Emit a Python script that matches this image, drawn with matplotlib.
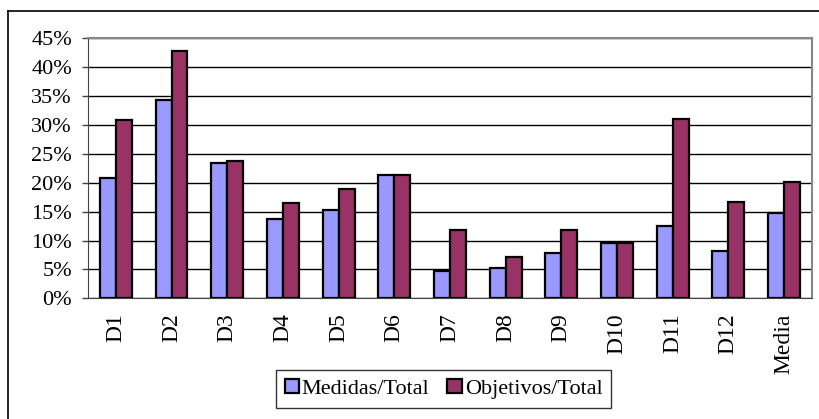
import matplotlib
matplotlib.use("Agg")
import matplotlib.pyplot as plt
import numpy as np
from matplotlib.lines import Line2D
from matplotlib.ticker import FuncFormatter

# data (percent)
categories = ["D1", "D2", "D3", "D4", "D5", "D6", "D7", "D8", "D9",
              "D10", "D11", "D12", "Media"]
medidas = [20.9, 34.4, 23.5, 13.8, 15.2, 21.4, 4.8, 5.2, 7.9, 9.5, 12.6, 8.2, 14.8]
objetivos = [30.9, 42.8, 23.7, 16.5, 19.0, 21.4, 11.8, 7.1, 11.8, 9.5, 31.0, 16.6, 20.2]
yticks = np.arange(0, 46, 5)

plt.rcParams["font.family"] = ["Liberation Serif", "DejaVu Serif"]

fig = plt.figure(figsize=(8.2, 4.19), dpi=100)
ax = fig.add_axes([0.1073, 0.288, 0.8827, 0.6206])

x = np.arange(len(categories))
w = 0.287
ax.bar(x - w / 2, medidas, w, color="#9999FF", edgecolor="black", lw=1.6,
       label="Medidas/Total", zorder=3)
ax.bar(x + w / 2, objetivos, w, color="#993366", edgecolor="black", lw=1.6,
       label="Objetivos/Total", zorder=3)

ax.set_xlim(-0.5, len(categories) - 0.5)
ax.set_ylim(0, 45)
ax.set_yticks(yticks)
ax.yaxis.set_major_formatter(FuncFormatter(lambda v, p: f"{v:.0f}%"))
ax.set_xticks(x)
ax.set_xticklabels(categories, rotation=90, va="top", ha="center")
ax.tick_params(axis="y", labelsize=16, length=4.5, width=1, pad=7, color="#444444")
ax.tick_params(axis="x", labelsize=17, length=0, pad=11)

ax.grid(axis="y", color="black", lw=1, zorder=0)
for s in ["top", "right"]:
    ax.spines[s].set_color("#888888")
    ax.spines[s].set_linewidth(1.5)
ax.spines["left"].set_color("#444444")
ax.spines["bottom"].set_color("#444444")

ax.legend(loc="center", bbox_to_anchor=(443.5 / 820, 1 - 389 / 419),
          bbox_transform=fig.transFigure, ncol=2, frameon=True, fancybox=False,
          edgecolor="black", fontsize=16, handlelength=0.64, handleheight=0.6,
          handletextpad=0.14, columnspacing=0.8, borderpad=0.4, borderaxespad=0)

# outer chart frame (left and top edges)
fig.add_artist(Line2D([8 / 820, 8 / 820], [0, 1 - 11 / 419], color="black", lw=1.2,
                      transform=fig.transFigure))
fig.add_artist(Line2D([8 / 820, 1], [1 - 11 / 419, 1 - 11 / 419], color="black", lw=1.2,
                      transform=fig.transFigure))

fig.savefig("out.png", dpi=100)
